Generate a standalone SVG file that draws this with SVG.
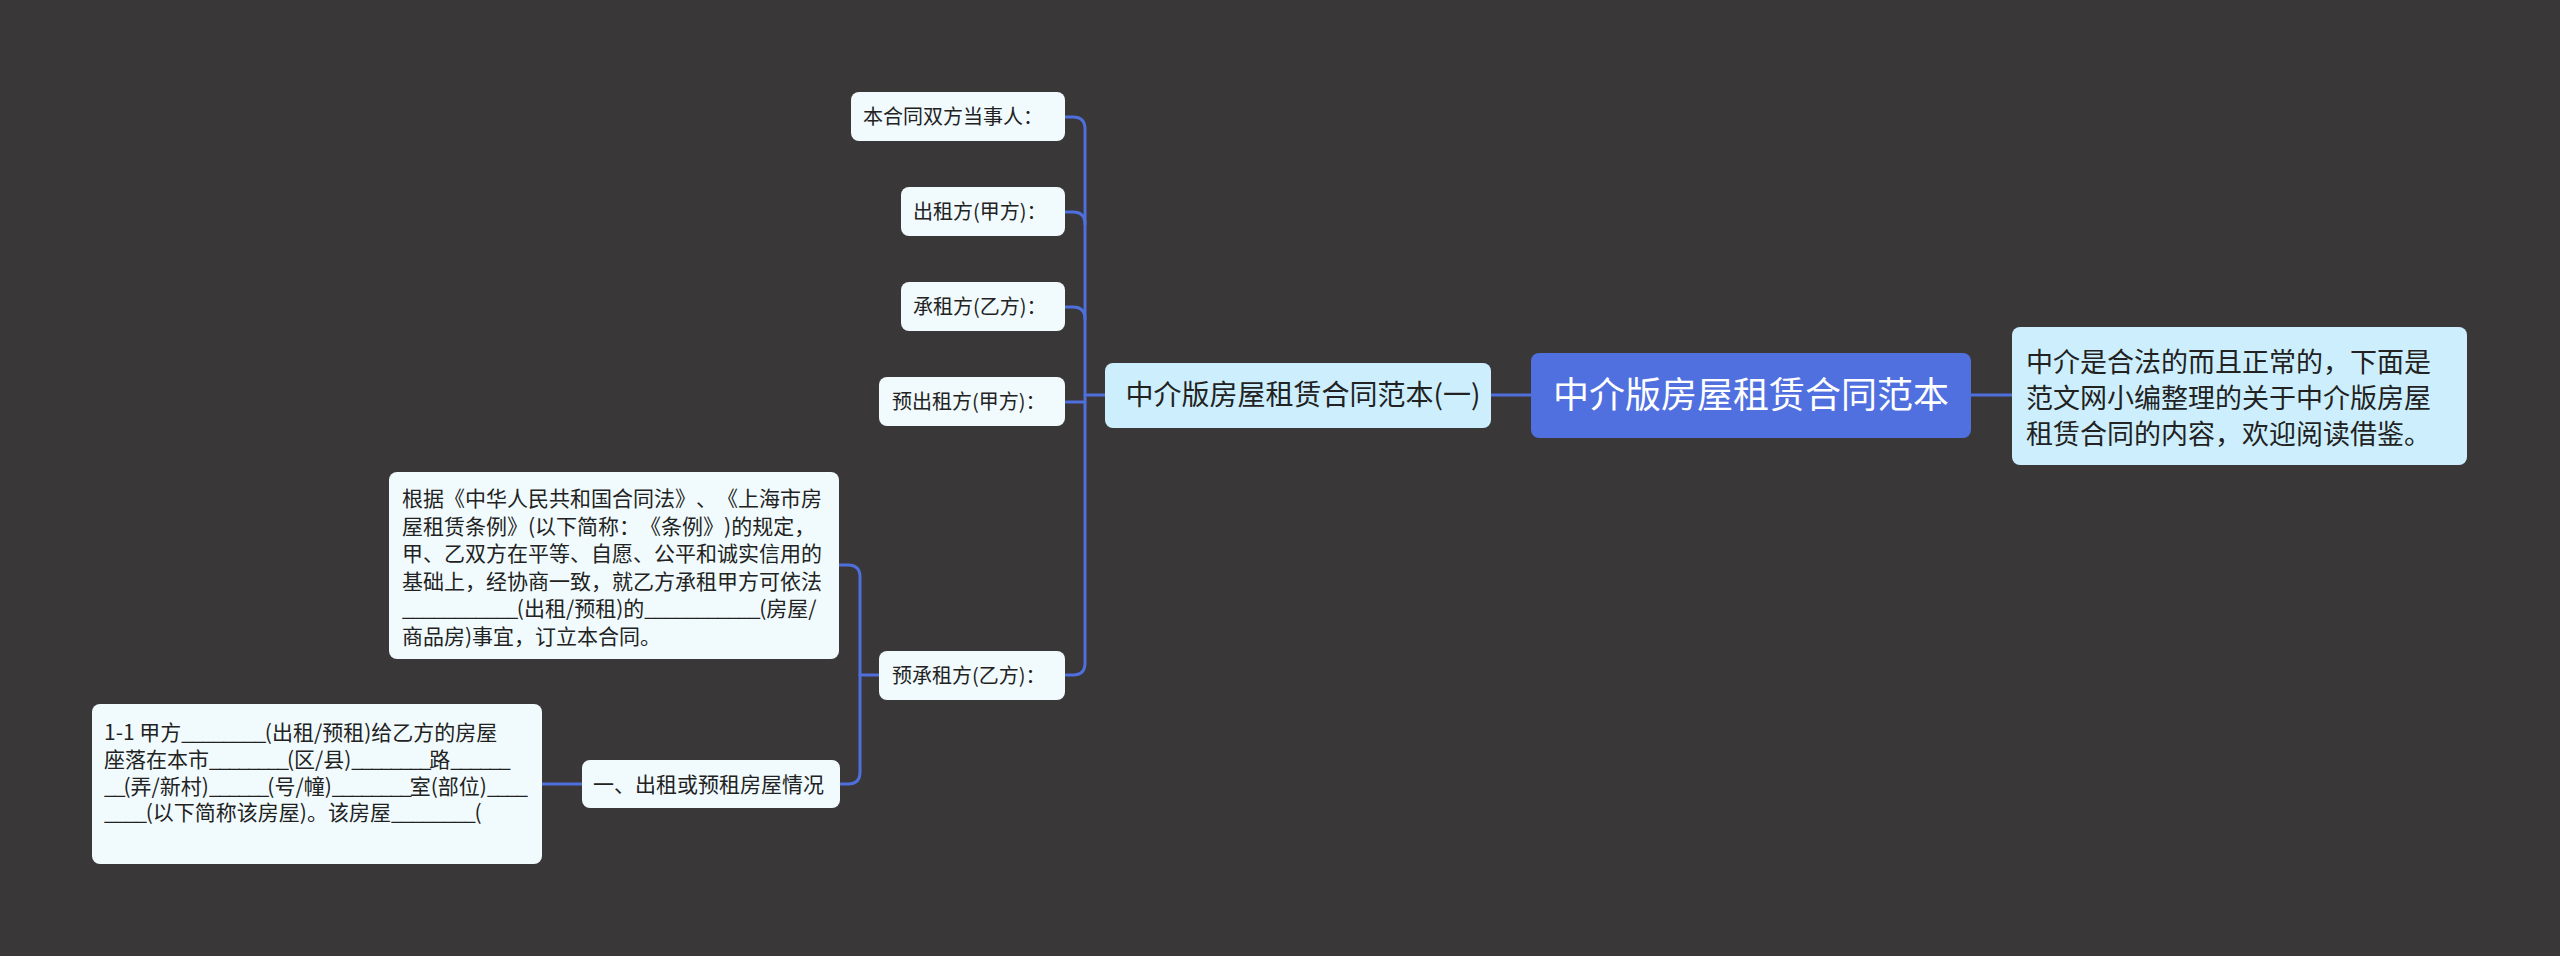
<svg xmlns="http://www.w3.org/2000/svg" width="2560" height="956" viewBox="0 0 2560 956">
<style>
.bg{fill:#393738}
.root{fill:#5070e0}
.l1{fill:#cdeffd}
.leaf{fill:#f1fbfd}
.t{font-family:"Microsoft YaHei","Noto Sans CJK SC","Noto Sans",sans-serif;fill:#222222;font-feature-settings:"chws" 0,"halt" 0;text-spacing-trim:space-all}
.s20{font-size:20px}
.s21{font-size:21px}
.u{letter-spacing:-1.3px}
.u2{letter-spacing:-2px}
.conn{fill:none;stroke:#4e6fdc;stroke-width:3;stroke-linecap:round}
</style>
<rect class="bg" x="0" y="0" width="2560" height="956"/>
<g id="connectors">
<path class="conn" d="M1065,117 H1073 Q1085,117 1085,129 V663 Q1085,675 1073,675 H1066"/>
<path class="conn" d="M1065,212 H1073 Q1085,212 1085,224"/>
<path class="conn" d="M1065,307 H1073 Q1085,307 1085,319"/>
<path class="conn" d="M1066,402 H1085"/>
<path class="conn" d="M1085,395 H1105"/>
<path class="conn" d="M1491,395 H1531"/>
<path class="conn" d="M1971,395 H2012"/>
<path class="conn" d="M839,565 H848 Q860,565 860,577 V772 Q860,784 848,784 H840"/>
<path class="conn" d="M860,675 H879"/>
<path class="conn" d="M542,784 H582"/>
</g>
<g id="root">
<rect class="root" x="1531" y="353" width="440" height="85" rx="8"/>
<text class="t" x="1751" y="408" font-size="36" style="fill:#ffffff" text-anchor="middle">中介版房屋租赁合同范本</text>
</g>
<g id="desc">
<rect class="l1" x="2012" y="327" width="455" height="138" rx="8"/>
<text class="t" font-size="27"><tspan x="2026" y="372">中介是合法的而且正常的，下面是</tspan><tspan x="2026" y="408">范文网小编整理的关于中介版房屋</tspan><tspan x="2026" y="444">租赁合同的内容，欢迎阅读借鉴。</tspan></text>
</g>
<g id="sample1">
<rect class="l1" x="1105" y="363" width="386" height="65" rx="8"/>
<text class="t" x="1303" y="405" font-size="28" text-anchor="middle">中介版房屋租赁合同范本(一)</text>
</g>
<g id="n1">
<rect class="leaf" x="851" y="92" width="214" height="49" rx="8"/>
<text class="t s20" x="863" y="124">本合同双方当事人：</text>
</g>
<g id="n2">
<rect class="leaf" x="901" y="187" width="164" height="49" rx="8"/>
<text class="t s20" x="913" y="219">出租方(甲方)：</text>
</g>
<g id="n3">
<rect class="leaf" x="901" y="282" width="164" height="49" rx="8"/>
<text class="t s20" x="913" y="314">承租方(乙方)：</text>
</g>
<g id="n4">
<rect class="leaf" x="879" y="377" width="186" height="49" rx="8"/>
<text class="t s20" x="892" y="409">预出租方(甲方)：</text>
</g>
<g id="n5">
<rect class="leaf" x="879" y="651" width="186" height="49" rx="8"/>
<text class="t s20" x="892" y="683">预承租方(乙方)：</text>
</g>
<g id="n6">
<rect class="leaf" x="389" y="472" width="450" height="187" rx="8"/>
<text class="t s21"><tspan x="402" y="506">根据《中华人民共和国合同法》、《上海市房</tspan><tspan x="402" y="533.5">屋租赁条例》(以下简称：《条例》)的规定，</tspan><tspan x="402" y="561">甲、乙双方在平等、自愿、公平和诚实信用的</tspan><tspan x="402" y="588.5">基础上，经协商一致，就乙方承租甲方可依法</tspan><tspan x="402" y="616"><tspan class="u">___________</tspan>(出租/预租)的<tspan class="u">___________</tspan>(房屋/</tspan><tspan x="402" y="643.5">商品房)事宜，订立本合同。</tspan></text>
</g>
<g id="n7">
<rect class="leaf" x="582" y="760" width="258" height="48" rx="8"/>
<text class="t s21" x="593" y="791.5">一、出租或预租房屋情况</text>
</g>
<g id="n8">
<rect class="leaf" x="92" y="704" width="450" height="160" rx="8"/>
<text class="t s21"><tspan x="104" y="740">1-1 甲方<tspan class="u">________</tspan>(出租/预租)给乙方的房屋</tspan><tspan x="104" y="767">座落在本市<tspan class="u2">________</tspan>(区/县)<tspan class="u2">________</tspan>路<tspan class="u2">______</tspan></tspan><tspan x="104" y="794"><tspan class="u2">__</tspan>(弄/新村)<tspan class="u2">______</tspan>(号/幢)<tspan class="u2">________</tspan>室(部位)<tspan class="u2">____</tspan></tspan><tspan x="104" y="820"><tspan class="u">____</tspan>(以下简称该房屋)。该房屋<tspan class="u">________</tspan>(</tspan></text>
</g>
</svg>
